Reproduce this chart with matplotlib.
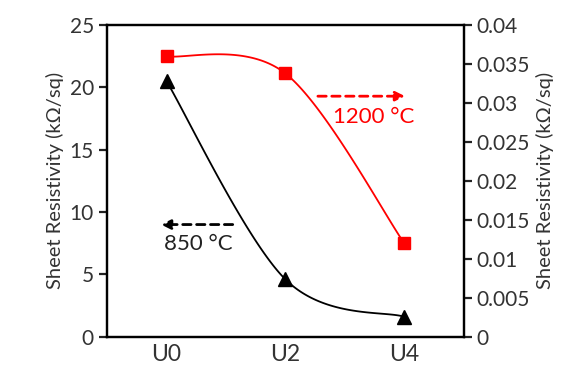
import matplotlib
matplotlib.use("Agg")
import matplotlib.pyplot as plt
import numpy as np

plt.rcParams['font.family'] = ['Lato', 'DejaVu Sans']

# data
samples = ['U0', 'U2', 'U4']
rs_850 = [20.5, 4.6, 1.6]          # left axis, kOhm/sq
rs_1200 = [0.036, 0.0338, 0.012]   # right axis, kOhm/sq

left_ticks = [0, 5, 10, 15, 20, 25]
right_ticks = [0, 0.005, 0.01, 0.015, 0.02, 0.025, 0.03, 0.035, 0.04]


def smooth(x, y, n=60):
  # Catmull-Rom style smoothing like Excel's "smoothed line"
  x = np.asarray(x, float)
  y = np.asarray(y, float)
  px = np.concatenate(([x[0]], x, [x[-1]]))
  py = np.concatenate(([y[0]], y, [y[-1]]))
  xs, ys = [], []
  for i in range(1, len(px) - 2):
    t = np.linspace(0, 1, n)
    m0x, m0y = (px[i+1] - px[i-1]) / 2, (py[i+1] - py[i-1]) / 2
    m1x, m1y = (px[i+2] - px[i]) / 2, (py[i+2] - py[i]) / 2
    h00 = 2*t**3 - 3*t**2 + 1
    h10 = t**3 - 2*t**2 + t
    h01 = -2*t**3 + 3*t**2
    h11 = t**3 - t**2
    xs.append(h00*px[i] + h10*m0x + h01*px[i+1] + h11*m1x)
    ys.append(h00*py[i] + h10*m0y + h01*py[i+1] + h11*m1y)
  return np.concatenate(xs), np.concatenate(ys)


fig, ax = plt.subplots(figsize=(5.76, 3.70), dpi=100)
fig.subplots_adjust(left=0.186, right=0.805, top=0.932, bottom=0.09)
ax2 = ax.twinx()

pos = np.arange(len(samples))

sx, sy = smooth(pos, rs_850)
ax.plot(sx, sy, color='black', lw=1.3)
ax.plot(pos, rs_850, ls='none', marker='^', ms=10, color='black')

sx, sy = smooth(pos, rs_1200)
ax2.plot(sx, sy, color='red', lw=1.3)
ax2.plot(pos, rs_1200, ls='none', marker='s', ms=9, color='red')

ax.set_xlim(-0.5, 2.5)
ax.set_ylim(0, 25)
ax2.set_ylim(0, 0.04)
ax.set_xticks(pos)
ax.set_xticklabels(samples)
ax.set_yticks(left_ticks)
ax2.set_yticks(right_ticks)
ax2.set_yticklabels([f"{v:g}" for v in right_ticks])

for a in (ax, ax2):
  for s in a.spines.values():
    s.set_linewidth(1.6)
  a.tick_params(axis='both', direction='out', length=6, width=1.6,
                labelsize=15, colors='#222222', labelcolor='#333333')
ax.tick_params(axis='x', length=0, pad=5, labelsize=16.5)

ax.set_ylabel('Sheet Resistivity (kΩ/sq)', fontsize=14.5, color='#333333', labelpad=4)
ax2.set_ylabel('Sheet Resistivity (kΩ/sq)', fontsize=14.5, color='#333333', labelpad=4)

# direction arrows
ax.annotate('', xy=(-0.07, 9.0), xytext=(0.58, 9.0),
            arrowprops=dict(arrowstyle='-|>', ls=(0, (3, 2)), lw=2,
                            color='black', mutation_scale=14))
ax.text(0.27, 7.4, '850 °C', fontsize=16, color='#222222', ha='center', va='center')

ax.annotate('', xy=(2.03, 19.3), xytext=(1.25, 19.3),
            arrowprops=dict(arrowstyle='-|>', ls=(0, (3, 2)), lw=2,
                            color='red', mutation_scale=14))
ax.text(1.74, 17.6, '1200 °C', fontsize=16, color='red', ha='center', va='center')

fig.savefig('out.png', dpi=100)
